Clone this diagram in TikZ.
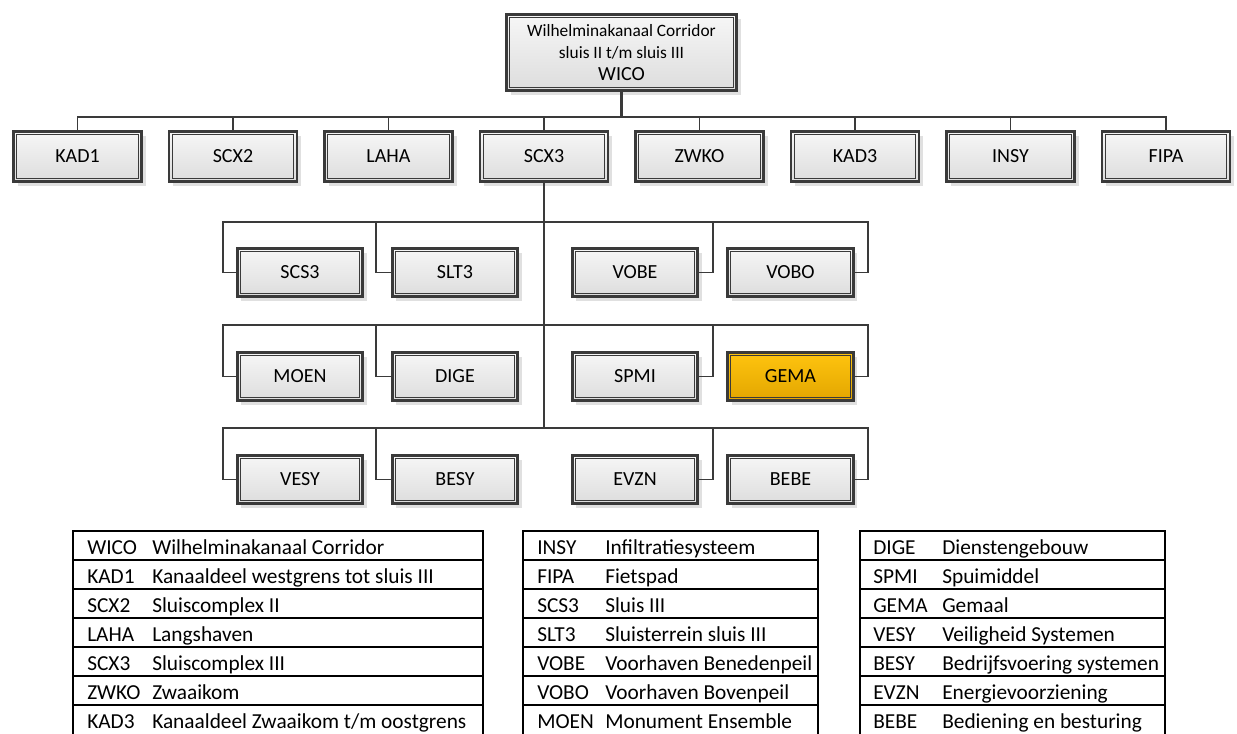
\documentclass[tikz,border=0pt]{standalone}
\usepackage{fontspec}
\setmainfont{Carlito}
\usetikzlibrary{shadows}
\definecolor{boxline}{HTML}{3A3A3A}
\definecolor{boxtop}{HTML}{F6F6F6}
\definecolor{boxbot}{HTML}{DDDDDD}
\definecolor{gematop}{HTML}{FFC40F}
\definecolor{gemabot}{HTML}{E2A600}

\begin{document}
\begin{tikzpicture}[
    x=0.75pt, y=-0.75pt,
    font=\fontsize{15}{18}\selectfont,
    unit/.style={draw=boxline, line width=2.2pt, top color=boxtop,
      bottom color=boxbot, minimum width=96pt, minimum height=37.5pt,
      inner sep=0pt,
      path picture={\draw[boxline, line width=0.8pt]
        ([shift={(2.3pt,-2.3pt)}]path picture bounding box.north west)
        rectangle ([shift={(-2.3pt,2.3pt)}]path picture bounding box.south east);},
      drop shadow={shadow xshift=3pt, shadow yshift=-3pt,
        fill=black, opacity=0.12}},
    subunit/.style={unit, minimum width=94pt, minimum height=36pt},
    link/.style={draw=boxline, line width=1.3pt},
    trunk/.style={draw=boxline, line width=2pt},
    tabline/.style={draw=black, line width=1.5pt},
    cell/.style={anchor=base west, inner sep=0pt,
      font=\fontsize{16}{18}\selectfont}]

  \useasboundingbox (0,0) rectangle (1237,733);

  % root
  \node[unit, minimum width=172.5pt, minimum height=57pt, align=center,
        font=\fontsize{13}{16.5}\selectfont] (WICO) at (621.5,52.5)
       {Wilhelminakanaal Corridor\\ sluis II t/m sluis III\\
        {\fontsize{15}{16.5}\selectfont WICO}};

  % first level
  \foreach \name [count=\i from 0] in {KAD1,SCX2,LAHA,SCX3,ZWKO,KAD3,INSY,FIPA}
    \node[unit] (\name) at ({77.5+155.5*\i},156.5) {\name};
  \coordinate (topbus) at (0,117);
  \draw[trunk] (WICO.south) -- (WICO.south |- topbus);
  \foreach \name in {KAD1,SCX2,LAHA,SCX3,ZWKO,KAD3,INSY,FIPA}
    \draw[link] (\name.north) -- (\name.north |- topbus) -| (WICO.south);

  % parts of SCX3, hooked in from the left or from the right
  \foreach \name/\x/\y in {SCS3/300/272.5, SLT3/455/272.5, VOBE/635/272.5,
      VOBO/790.5/272.5, MOEN/300/376.5, DIGE/455/376.5, SPMI/635/376.5,
      VESY/300/479.5, BESY/455/479.5, EVZN/635/479.5, BEBE/790.5/479.5}
    \node[subunit] (\name) at (\x,\y) {\name};
  \node[subunit, top color=gematop, bottom color=gemabot] (GEMA)
       at (790.5,376.5) {GEMA};

  \coordinate (lowbus) at (0,428);
  \draw[trunk] (SCX3.south) -- (SCX3.south |- lowbus);
  \foreach \name/\hx/\by in {SCS3/223/222, SLT3/376/222, MOEN/223/325,
      DIGE/376/325, VESY/223/428, BESY/376/428}
    \draw[link] (\name.west) -| (\hx,\by) -| (SCX3.south);
  \foreach \name/\hx/\by in {VOBE/713/222, VOBO/868/222, SPMI/713/325,
      GEMA/868/325, EVZN/713/428, BEBE/868/428}
    \draw[link] (\name.east) -| (\hx,\by) -| (SCX3.south);

  % legend tables
  \foreach \l/\r in {73/483, 523/818, 860/1165} {
    \draw[tabline] (\l,531) rectangle (\r,760);
    \foreach \k in {1,...,6}
      \draw[tabline] (\l,{531+29*\k}) -- (\r,{531+29*\k});
  }
  \foreach \code/\desc [count=\k from 0] in {WICO/Wilhelminakanaal Corridor,
      KAD1/Kanaaldeel westgrens tot sluis III, SCX2/Sluiscomplex II,
      LAHA/Langshaven, SCX3/Sluiscomplex III, ZWKO/Zwaaikom,
      KAD3/{Kanaaldeel Zwaaikom t/m oostgrens}} {
    \node[cell] (ca\k) at (87,{554+29*\k}) {\code};
    \node[cell] (da\k) at (152,{554+29*\k}) {\desc};
  }
  \foreach \code/\desc [count=\k from 0] in {INSY/Infiltratiesysteem,
      FIPA/Fietspad, SCS3/Sluis III, SLT3/Sluisterrein sluis III,
      VOBE/Voorhaven Benedenpeil, VOBO/Voorhaven Bovenpeil,
      MOEN/Monument Ensemble} {
    \node[cell] (cb\k) at (537,{554+29*\k}) {\code};
    \node[cell] (db\k) at (605,{554+29*\k}) {\desc};
  }
  \foreach \code/\desc [count=\k from 0] in {DIGE/Dienstengebouw,
      SPMI/Spuimiddel, GEMA/Gemaal, VESY/Veiligheid Systemen,
      BESY/Bedrijfsvoering systemen, EVZN/Energievoorziening,
      BEBE/Bediening en besturing} {
    \node[cell] (cc\k) at (873,{554+29*\k}) {\code};
    \node[cell] (dc\k) at (942,{554+29*\k}) {\desc};
  }
\end{tikzpicture}
\end{document}
